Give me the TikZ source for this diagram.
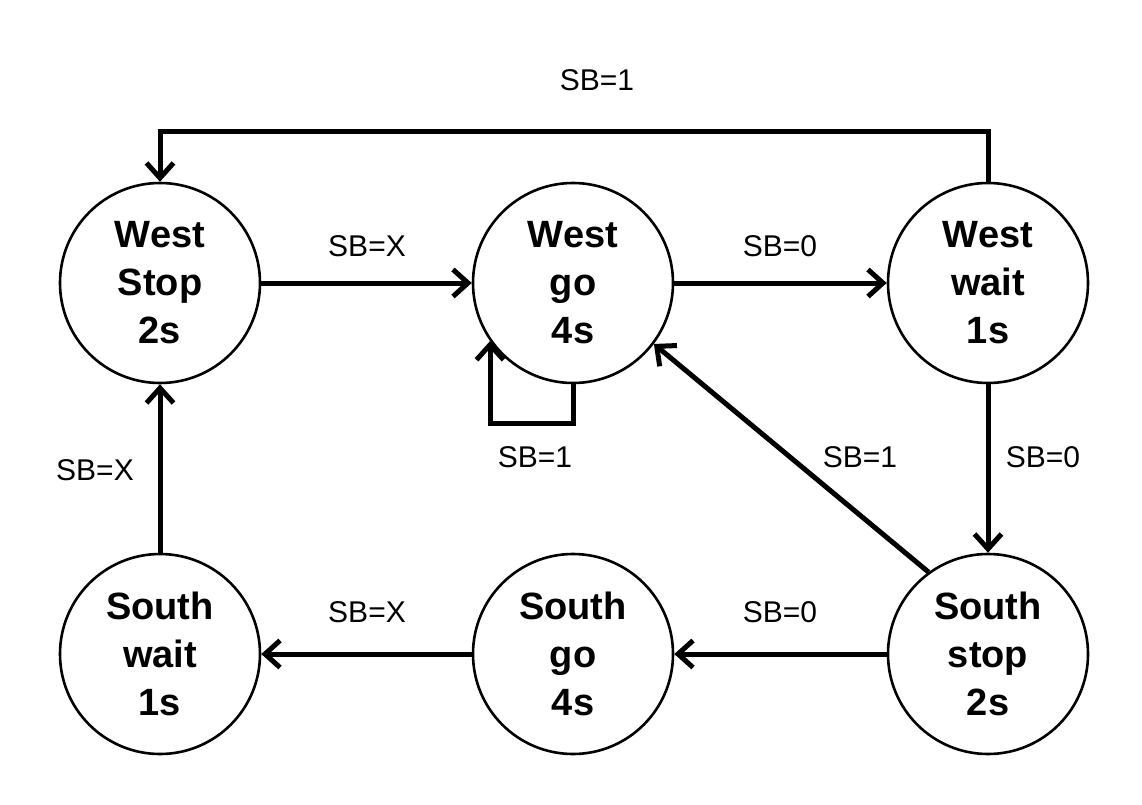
\documentclass[tikz,border=0pt]{standalone}
\usepackage{fontspec}
\setmainfont{Liberation Sans}
\usetikzlibrary{arrows.meta}
\begin{document}
\begin{tikzpicture}[x=1pt,y=-1pt,
  state/.style={draw,circle,line width=2.6pt,minimum size=200pt,inner sep=0pt,align=center,
    font=\bfseries\fontsize{38}{48}\selectfont},
  conn/.style={line width=5pt,-{Straight Barb[length=15pt,width=27pt,line width=5pt]}},
  lbl/.style={font=\fontsize{30}{36}\selectfont,inner sep=0pt}]
\useasboundingbox (0,0) rectangle (1142,805);
\fill[white] (0,0) rectangle (1142,805);
\node[state] (ws) at (160,283) {West\\Stop\\2s};
\node[state] (wg) at (573,283) {West\\go\\4s};
\node[state] (ww) at (988,283) {West\\wait\\1s};
\node[state] (sw) at (160,654) {South\\wait\\1s};
\node[state] (sg) at (573,654) {South\\go\\4s};
\node[state] (ss) at (988,654) {South\\stop\\2s};
\draw[conn] (ws) -- (wg);
\draw[conn] (wg) -- (ww);
\draw[conn] (ww) -- (ss);
\draw[conn] (ss) -- (sg);
\draw[conn] (sg) -- (sw);
\draw[conn] (sw) -- (ws);
\draw[conn] (ss.126) -- (wg.-37);
\draw[conn] (ww.north) -- ++(0,-50) -| (ws.north);
\draw[conn] (wg.south) -- ++(0,39) -| (wg.215);
\node[lbl] (l1) at (597,80) {SB=1};
\node[lbl] (l2) at (367,246) {SB=X};
\node[lbl] (l3) at (780,246) {SB=0};
\node[lbl] (l4) at (535,457) {SB=1};
\node[lbl] (l5) at (860,457) {SB=1};
\node[lbl] (l6) at (1043,457) {SB=0};
\node[lbl] (l7) at (95,470) {SB=X};
\node[lbl] (l8) at (367,612) {SB=X};
\node[lbl] (l9) at (780,612) {SB=0};
\end{tikzpicture}
\end{document}
